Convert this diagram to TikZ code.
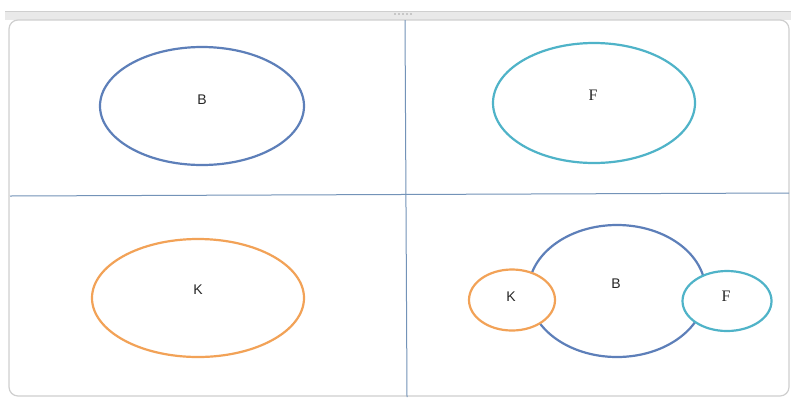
\documentclass[tikz,border=0pt]{standalone}
\usepackage{fontspec}
\setmainfont{Liberation Serif}
\setsansfont{Liberation Sans}
\usetikzlibrary{shapes.geometric}
\definecolor{SetBlue}{HTML}{5D7FB9}
\definecolor{SetTeal}{HTML}{4FB3C8}
\definecolor{SetOrange}{HTML}{F2A257}
\definecolor{GridLine}{HTML}{7393B8}
\definecolor{FrameGray}{HTML}{CFCFCF}
\definecolor{BarGray}{HTML}{E9E9E9}

\begin{document}
\begin{tikzpicture}[x=1pt,y=-1pt,
    setring/.style={draw,ellipse,line width=2.2pt,inner sep=0pt,fill=white},
    setlab/.style={font=\fontsize{14}{16}\selectfont\sffamily,text=black!85},
    seriflab/.style={font=\fontsize{16}{18}\selectfont\rmfamily,text=black!85}]
    \useasboundingbox (0,0) rectangle (791,397);

    \fill[BarGray] (5,11) rectangle (791,20);
    \draw[FrameGray,line width=0.6pt] (5,11) -- (791,11);
    \foreach \dx in {0,4,8,12,16}
      \fill[black!35] (395+\dx,14) circle (0.9pt);
    \draw[FrameGray,fill=white,line width=1.2pt,rounded corners=9pt]
      (9,20) rectangle (789,396);

    \coordinate (gridtop) at (405,20);
    \coordinate (gridbot) at (407,397);
    \coordinate (gridleft) at (10,196);
    \coordinate (gridright) at (789,193);
    \draw[GridLine,line width=1pt] (gridtop) -- (gridbot);
    \draw[GridLine,line width=1pt] (gridleft) -- (gridright);

    \node[setring,draw=SetBlue,minimum width=204pt,minimum height=118pt] (ringB) at (202,106) {};
    \node[setlab] (labB) at (202,100) {B};
    \node[setring,draw=SetTeal,minimum width=202pt,minimum height=120pt] (ringF) at (594,103) {};
    \node[seriflab] (labF) at (593,95) {F};
    \node[setring,draw=SetOrange,minimum width=212pt,minimum height=118pt] (ringK) at (198,298) {};
    \node[setlab] (labK) at (198,290) {K};

    \node[setring,draw=SetBlue,minimum width=177pt,minimum height=132pt] (bigB) at (617,291) {};
    \node[setring,draw=SetOrange,minimum width=86pt,minimum height=61pt] (smallK) at (512,300) {};
    \node[setring,draw=SetTeal,minimum width=89pt,minimum height=60pt] (smallF) at (727,301) {};
    \node[setlab] (bigBlab) at (616,284) {B};
    \node[setlab] (smallKlab) at (511,297) {K};
    \node[seriflab] (smallFlab) at (726,296) {F};
\end{tikzpicture}
\end{document}
